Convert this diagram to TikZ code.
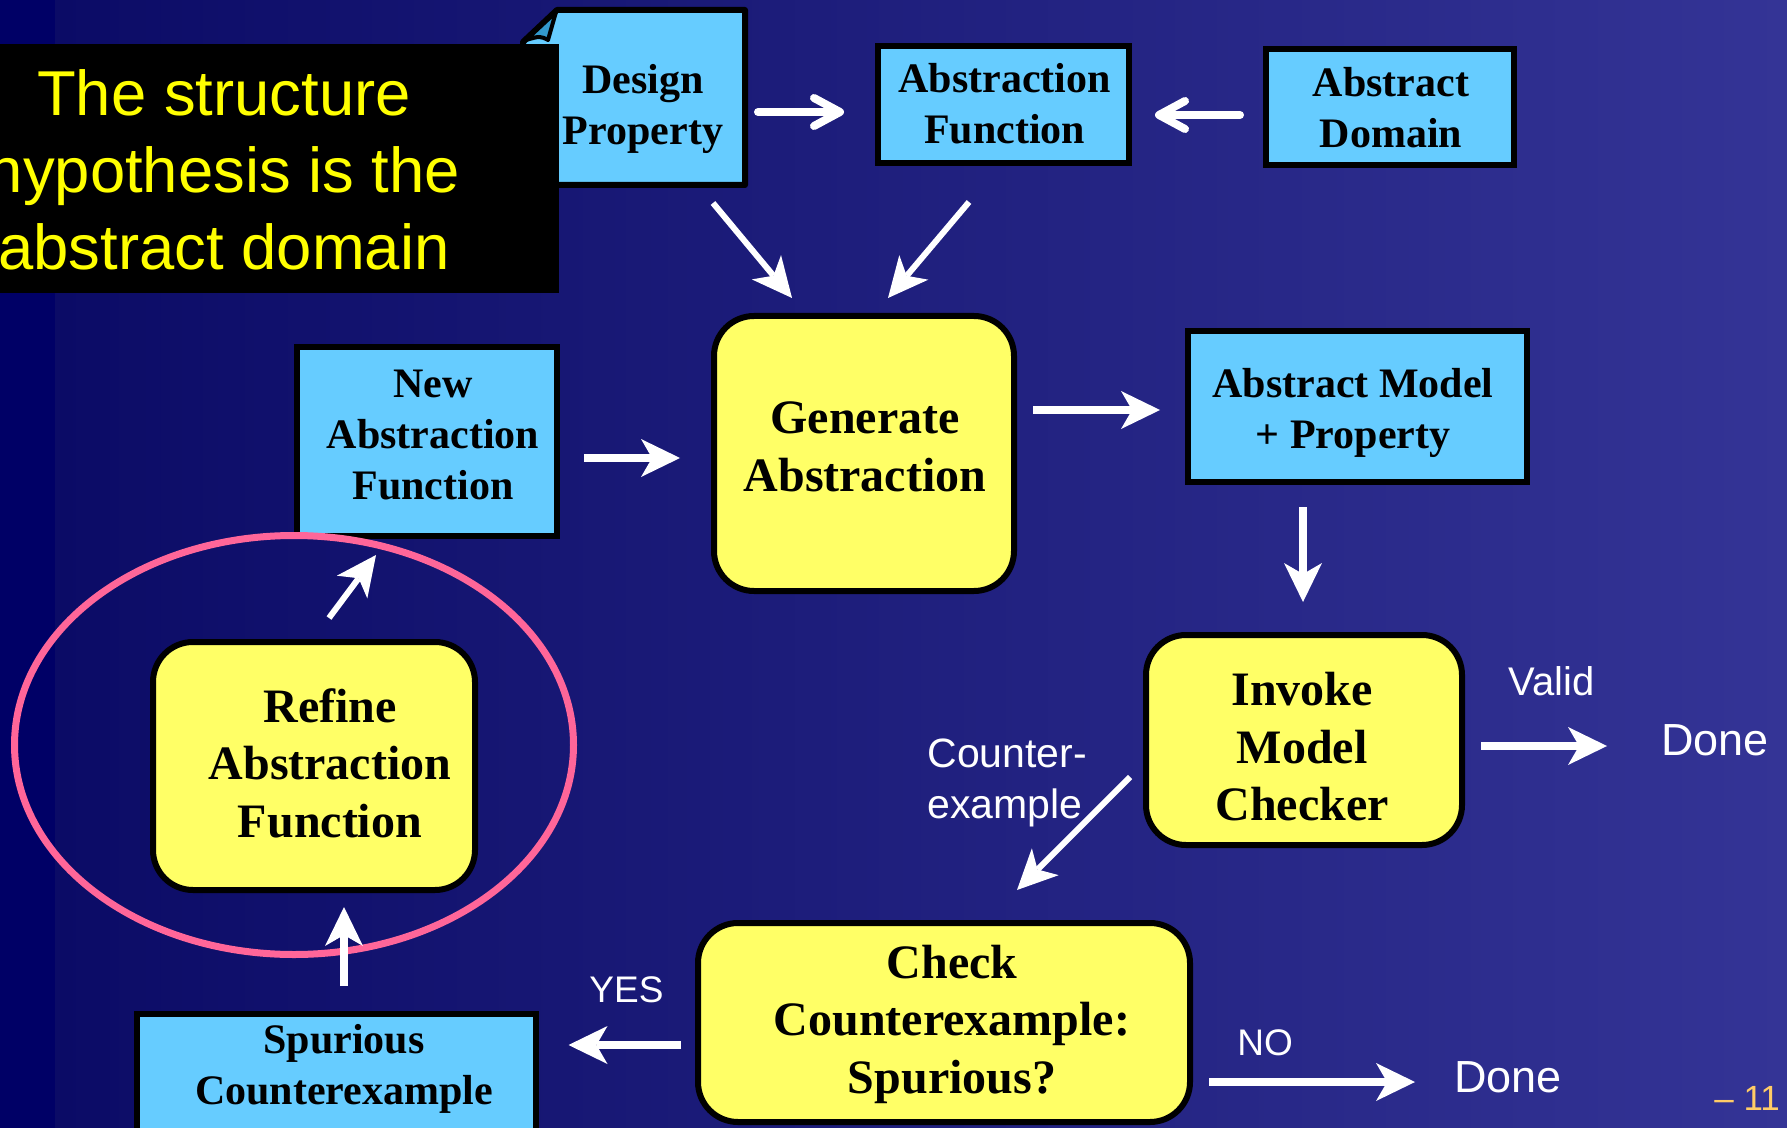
\documentclass[tikz,border=0pt]{standalone}
\usepackage{fontspec}
\setmainfont{Liberation Serif}
\newfontfamily\labelsans{Liberation Sans}
\usetikzlibrary{arrows.meta,calc}
\definecolor{bgleft}{HTML}{0B0B66}
\definecolor{bgright}{HTML}{343496}
\definecolor{bgstrip}{HTML}{000066}
\definecolor{boxblue}{HTML}{66CCFF}
\definecolor{foldblue}{HTML}{3399CC}
\definecolor{boxyellow}{HTML}{FFFF66}
\definecolor{ringpink}{HTML}{FF6699}
\definecolor{calloutyellow}{HTML}{FFFF00}
\definecolor{pagenum}{HTML}{FFCC66}

\begin{document}
\begin{tikzpicture}[x=0.5pt,y=-0.5pt,
  datafig/.style={draw=black, line width=3pt, fill=boxblue, inner sep=0pt, outer sep=0pt},
  stepfig/.style={draw=black, line width=3pt, fill=boxyellow, rounded corners=20pt, inner sep=0pt, outer sep=0pt},
  bluetext/.style={inner sep=0pt, align=center, font=\bfseries\fontsize{21pt}{25.5pt}\selectfont},
  yellowtext/.style={inner sep=0pt, align=center, font=\bfseries\fontsize{24pt}{28.75pt}\selectfont},
  flowlabel/.style={inner sep=0pt, text=white, anchor=base west},
  thickarrow/.style={draw=white, line width=4pt,
    -{Stealth[length=19.5pt,width=19pt,inset=5.5pt,line width=0pt]}},
  thinarrow/.style={draw=white, line width=3pt,
    -{Stealth[length=20pt,width=19pt,inset=5.5pt,line width=0pt]}},
  barbarrow/.style={draw=white, line width=4pt, line cap=round,
    -{Straight Barb[length=13pt,width=14pt,round]}},
]
\useasboundingbox (0,0) rectangle (1787,1128);
\clip (0,0) rectangle (1787,1128);

% background
\fill[bgstrip] (0,0) rectangle (55,1128);
\shade[left color=bgleft, right color=bgright] (55,0) rectangle (1787,1128);

% design property sheet with folded corner
\node[minimum width=111pt, minimum height=87.5pt, inner sep=0pt, outer sep=0pt] (design) at (634,97.5) {};
\draw[datafig, line join=round] ($(design.north west)+(34,0)$) -- (design.north east) -- (design.south east)
  -- (design.south west) -- ($(design.north west)+(0,32)$) -- cycle;
\draw[fill=foldblue, draw=black, line width=2pt, line join=round] ($(design.north west)+(33,2)$)
  -- ($(design.north west)+(25,30)$) .. controls ($(design.north west)+(17,26)$) .. ($(design.north west)+(3,30)$) -- cycle;
\node[bluetext] (design-t) at (643,108.5) {Design\\Property};

% data boxes
\node[datafig, minimum width=125.5pt, minimum height=58.5pt] (absfun) at (1003.5,104.5) {};
\node[bluetext] (absfun-t) at (1004.5,104) {Abstraction\\Function};
\node[datafig, minimum width=124pt, minimum height=58pt] (absdom) at (1390,107) {};
\node[bluetext] (absdom-t) at (1391,107.5) {Abstract\\Domain};
\node[datafig, minimum width=130pt, minimum height=94.5pt] (newfun) at (427,441.5) {};
\node[bluetext] (newfun-t) at (433,435) {New\\Abstraction\\Function};
\node[datafig, minimum width=169.5pt, minimum height=75.5pt] (amp) at (1357.5,406.5) {};
\node[bluetext] (amp-t) at (1353,412.5) {Abstract Model\\+ Property};
\node[datafig, minimum width=199.5pt, minimum height=68pt] (spur) at (336.5,1082) {};
\node[bluetext] (spur-t) at (344,1069) {Spurious\\Counterexample};

% process steps
\node[stepfig, minimum width=150pt, minimum height=137.5pt] (gen) at (864,453.5) {};
\node[yellowtext] (gen-t) at (865,447) {Generate\\Abstraction};
\node[stepfig, minimum width=158pt, minimum height=105pt] (invoke) at (1304,740) {};
\node[yellowtext] (invoke-t) at (1302,747) {Invoke\\Model\\Checker};
\node[stepfig, minimum width=246pt, minimum height=99.5pt] (check) at (944,1022.5) {};
\node[yellowtext] (check-t) at (952,1024) {Check\\Counterexample:\\Spurious?};
\node[stepfig, minimum width=161pt, minimum height=124pt] (refine) at (314,766) {};
\node[yellowtext] (refine-t) at (330,763) {Refine\\Abstraction\\Function};

% callout
\node[fill=black, minimum width=279.5pt, minimum height=124.5pt, inner sep=0pt, outer sep=0pt] (callout) at (279.5,168.5) {};
\node[inner sep=0pt, align=center, text=calloutyellow,
  font=\labelsans\fontsize{31.7pt}{38.5pt}\selectfont] (callout-t) at (224,169.5)
  {The structure\\hypothesis is the\\abstract domain};

% highlight ring around the refinement step
\draw[ringpink, line width=3.5pt] (294,745) ellipse [x radius=139.75pt, y radius=104.75pt];

% edge labels
\node[flowlabel, font=\labelsans\fontsize{20pt}{24pt}\selectfont] (valid) at (1508,695) {Valid};
\node[flowlabel, font=\labelsans\fontsize{22.5pt}{27pt}\selectfont] (done1) at (1661,755) {Done};
\node[inner sep=0pt, anchor=north west, align=left, text=white,
  font=\labelsans\fontsize{20.5pt}{25.5pt}\selectfont] (cex) at (927,738) {Counter-\\example};
\node[flowlabel, font=\labelsans\fontsize{18.5pt}{22pt}\selectfont] (yes) at (589,1002) {YES};
\node[flowlabel, font=\labelsans\fontsize{18.5pt}{22pt}\selectfont] (no) at (1237,1055) {NO};
\node[flowlabel, font=\labelsans\fontsize{22.5pt}{27pt}\selectfont] (done2) at (1454,1092) {Done};
\node[flowlabel, text=pagenum, font=\labelsans\fontsize{17.5pt}{21pt}\selectfont] (pageno) at (1714,1110) {– 11};

% connectors
\draw[barbarrow] ($(design.east)+(13,14.5)$) -- ($(absfun.west)+(-34,7.5)$);
\draw[barbarrow] ($(absdom.west)+(-26,8)$) -- ($(absfun.east)+(26,10.5)$);
\draw[thinarrow] ($(design.south)+(79,18)$) -- ($(gen.north)+(-72,-18)$);
\draw[thinarrow] ($(absfun.south)+(-34.5,39)$) -- ($(gen.north)+(24,-18)$);
\draw[thickarrow] ($(gen.east)+(19,-43.5)$) -- ($(amp.west)+(-28,3.5)$);
\draw[thickarrow] ($(amp.south)+(-54.5,25)$) -- ($(invoke.north)+(-1,-33)$);
\draw[thickarrow] ($(invoke.east)+(19,6)$) -- ($(done1.base west)+(-54,-9)$);
\draw[thinarrow] ($(invoke.west)+(-16,37)$) -- ($(check.north)+(73,-33)$);
\draw[thickarrow] ($(check.east)+(19,59.5)$) -- ($(done2.base west)+(-39,-10)$);
\draw[thickarrow] ($(check.west)+(-17,22.5)$) -- ($(spur.east)+(32.5,-37)$);
\draw[thickarrow] ($(spur.north)+(7.5,-28)$) -- ($(refine.south)+(30,17)$);
\draw[thinarrow] ($(refine.north)+(15,-24)$) -- ($(newfun.south)+(-51,19)$);
\draw[thickarrow] ($(newfun.east)+(27,16.5)$) -- ($(gen.west)+(-34,4.5)$);
\end{tikzpicture}
\end{document}
